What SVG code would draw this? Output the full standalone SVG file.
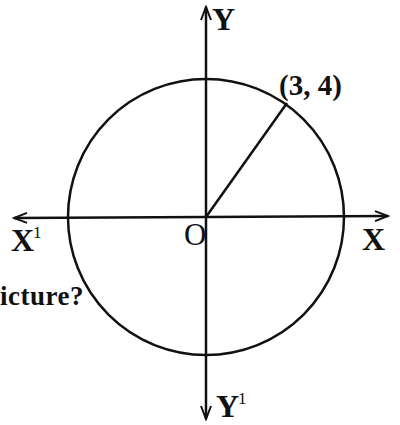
<svg xmlns="http://www.w3.org/2000/svg" width="400" height="425" viewBox="0 0 400 425">
<style>
.ln{stroke:#111;stroke-width:2.5;fill:none}
.t{font-family:"Liberation Serif",serif;font-weight:bold;fill:#111}
.sup{font-weight:normal}
</style>
<defs>
<marker id="ah" viewBox="-14 -7 16 14" markerWidth="16" markerHeight="14" refX="0" refY="0" orient="auto" markerUnits="userSpaceOnUse">
<path d="M-13,-5 L0,0 L-13,5" stroke="#111" stroke-width="2" fill="none"/>
</marker>
</defs>
<rect width="400" height="425" fill="#fff"/>
<g id="connectors">
<line class="ln" x1="206" y1="217" x2="388" y2="216" marker-end="url(#ah)"/>
<line class="ln" x1="206" y1="217" x2="14" y2="218" marker-end="url(#ah)"/>
<line class="ln" x1="206" y1="217" x2="206" y2="7" marker-end="url(#ah)"/>
<line class="ln" x1="206" y1="217" x2="206" y2="419" marker-end="url(#ah)"/>
<line class="ln" x1="206" y1="217" x2="287" y2="103"/>
</g>
<g id="circle"><circle class="ln" cx="206" cy="217" r="138"/></g>
<g id="labels">
<text class="t" x="212" y="30" font-size="32">Y</text>
<text class="t" x="279" y="95" font-size="29">(3, 4)</text>
<text class="t" x="11" y="251" font-size="32">X<tspan class="sup" font-size="17" dx="-1" dy="-13">1</tspan></text>
<text x="184" y="245" font-size="31" font-family="Liberation Serif, serif" fill="#111">O</text>
<text class="t" x="362" y="250" font-size="32">X</text>
<text class="t" x="216" y="417" font-size="32">Y<tspan class="sup" font-size="17" dx="-1" dy="-13">1</tspan></text>
<text class="t" x="0" y="305" font-size="27" letter-spacing="0.5">icture?</text>
</g>
</svg>
